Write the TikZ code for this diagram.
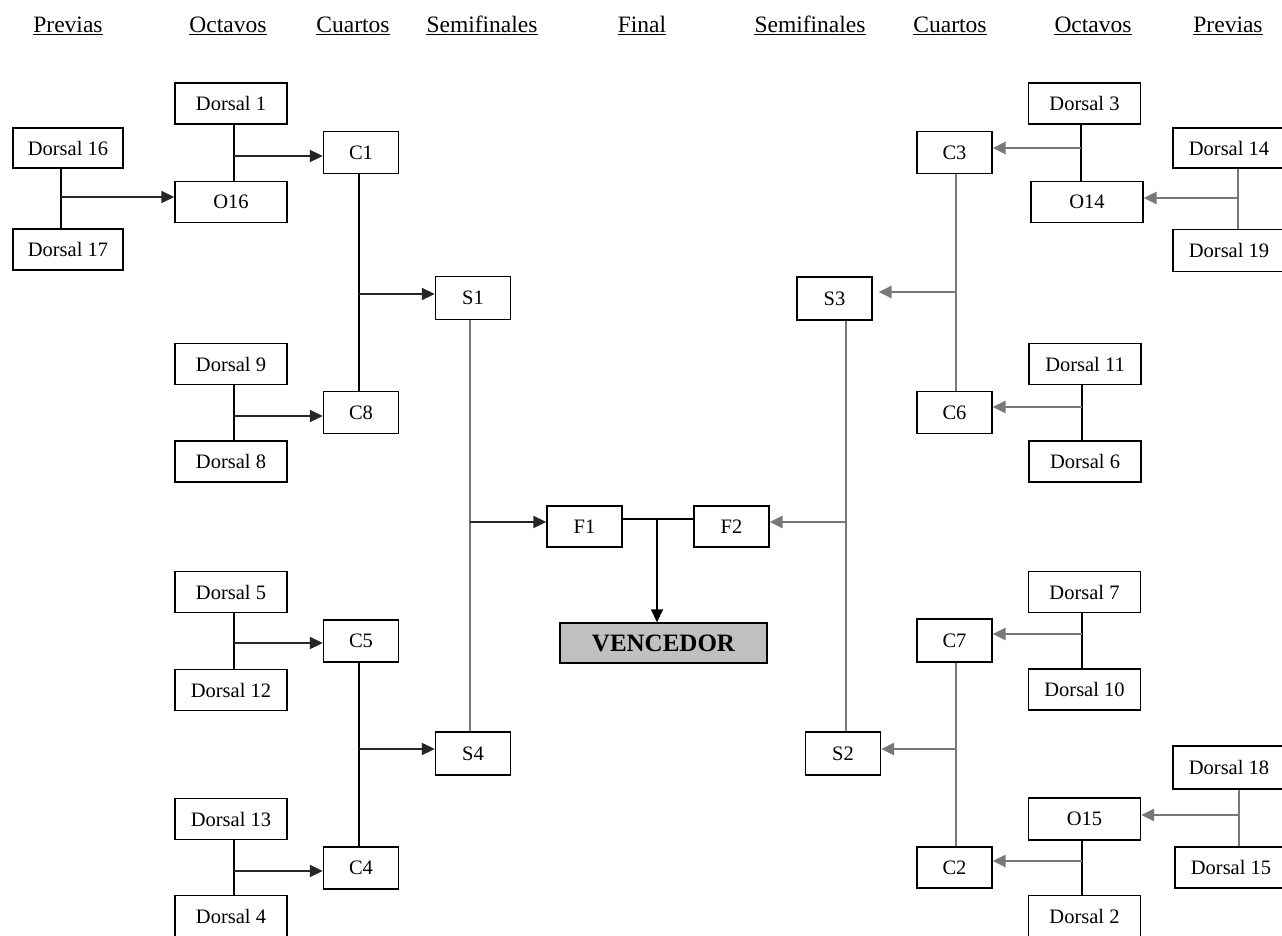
\documentclass[tikz,border=0pt]{standalone}
\usepackage{fontspec}
\setmainfont{Liberation Serif}
\usetikzlibrary{arrows.meta}
\definecolor{linegray}{RGB}{120,120,120}
\definecolor{wingray}{RGB}{192,192,192}
\begin{document}
\begin{tikzpicture}[x=1pt,y=-1pt,
  box/.style={draw, line width=1.4pt, minimum width=112pt, minimum height=41pt, inner sep=0pt, fill=white, font=\fontsize{20.5}{24}\selectfont},
  cbox/.style={box, minimum width=75pt, minimum height=42pt},
  winbox/.style={box, fill=wingray, minimum width=207pt, minimum height=40pt, font=\fontsize{25}{30}\selectfont\bfseries},
  hdr/.style={anchor=base, inner sep=0pt, font=\fontsize{23.5}{28}\selectfont},
  uline/.style={line width=1.3pt},
  blk/.style={line width=1.5pt, black},
  ablk/.style={line width=1.9pt, black!85},
  gry/.style={line width=2.6pt, linegray},
  arr/.style={-{Triangle[length=13pt,width=12pt]}}
]
\useasboundingbox[fill=white] (0,0) rectangle (1282,935);

% headers
\foreach \x/\t/\n in {68/Previas/h1, 228/Octavos/h2, 353/Cuartos/h3, 482/Semifinales/h4, 642/Final/h5, 810/Semifinales/h6, 950/Cuartos/h7, 1093/Octavos/h8, 1228/Previas/h9}{
  \node[hdr] (\n) at (\x,32) {\t};
  \draw[uline] ([yshift=-2.5pt]\n.base west) -- ([yshift=-2.5pt]\n.base east);
}

% left side nodes
\node[box] (d1) at (231,103.5) {Dorsal 1};
\node[box, minimum width=110pt, minimum height=40pt] (d16) at (68,148) {Dorsal 16};
\node[box] (o16) at (231,202) {O16};
\node[box, minimum width=110pt] (d17) at (68,249.5) {Dorsal 17};
\node[cbox] (c1) at (361,152.5) {C1};
\node[cbox, minimum height=43pt] (s1) at (473,298) {S1};
\node[box] (d9) at (231,364) {Dorsal 9};
\node[cbox] (c8) at (361,412.5) {C8};
\node[box] (d8) at (231,461.5) {Dorsal 8};
\node[box] (d5) at (231,592) {Dorsal 5};
\node[cbox] (c5) at (361,641) {C5};
\node[box] (d12) at (231,690) {Dorsal 12};
\node[cbox, minimum height=43pt] (s4) at (473,753.5) {S4};
\node[box] (d13) at (231,819) {Dorsal 13};
\node[cbox] (c4) at (361,868) {C4};
\node[box] (d4) at (231,916) {Dorsal 4};

% final
\node[cbox, minimum height=41pt] (f1) at (584.5,526.5) {F1};
\node[cbox, minimum height=41pt] (f2) at (731.5,526.5) {F2};
\node[winbox] (venc) at (663.5,643) {VENCEDOR};

% right side nodes
\node[box] (d3) at (1084.5,103.5) {Dorsal 3};
\node[cbox] (c3) at (954.5,152.5) {C3};
\node[box, minimum height=40pt] (d14) at (1229,148) {Dorsal 14};
\node[box] (o14) at (1087,202) {O14};
\node[box, minimum height=42pt] (d19) at (1229,250.5) {Dorsal 19};
\node[cbox, minimum height=43pt] (s3) at (834.5,298.5) {S3};
\node[box] (d11) at (1085,364) {Dorsal 11};
\node[cbox] (c6) at (954.5,412.5) {C6};
\node[box] (d6) at (1085,461.5) {Dorsal 6};
\node[box] (d7) at (1084.5,592) {Dorsal 7};
\node[cbox, minimum height=43pt] (c7) at (954.5,640.5) {C7};
\node[box] (d10) at (1084.5,689.5) {Dorsal 10};
\node[cbox, minimum height=43pt] (s2) at (843,753.5) {S2};
\node[box, minimum height=43pt] (d18) at (1229,767.5) {Dorsal 18};
\node[box, minimum height=42pt] (o15) at (1084.5,819) {O15};
\node[cbox, minimum height=41pt] (c2) at (954.5,867.5) {C2};
\node[box] (d15) at (1231,867.5) {Dorsal 15};
\node[box] (d2) at (1084.5,916) {Dorsal 2};

% left junctions
\coordinate (j1) at (234,156);
\coordinate (j2) at (61,197);
\coordinate (j3) at (359,294);
\coordinate (j4) at (234,416);
\coordinate (j5) at (470,522);
\coordinate (j6) at (234,643);
\coordinate (j7) at (359,749);
\coordinate (j8) at (234,871);
\coordinate (jf) at (657,519);

\draw[blk] (d1.south -| j1) -- (o16.north -| j1);
\draw[ablk,arr] (j1) -- (j1 -| c1.west);
\draw[blk] (d16.south -| j2) -- (d17.north -| j2);
\draw[ablk,arr] (j2) -- (j2 -| o16.west);
\draw[blk] (c1.south -| j3) -- (c8.north -| j3);
\draw[ablk,arr] (j3) -- (j3 -| s1.west);
\draw[blk] (d9.south -| j4) -- (d8.north -| j4);
\draw[ablk,arr] (j4) -- (j4 -| c8.west);
\draw[gry] (s1.south -| j5) -- (s4.north -| j5);
\draw[ablk,arr] (j5) -- (j5 -| f1.west);
\draw[blk] (d5.south -| j6) -- (d12.north -| j6);
\draw[ablk,arr] (j6) -- (j6 -| c5.west);
\draw[blk] (c5.south -| j7) -- (c4.north -| j7);
\draw[ablk,arr] (j7) -- (j7 -| s4.west);
\draw[blk] (d13.south -| j8) -- (d4.north -| j8);
\draw[ablk,arr] (j8) -- (j8 -| c4.west);

% final
\draw[blk] (f1.east |- jf) -- (f2.west |- jf);
\draw[blk,arr] (jf) -- (venc.north -| jf);

% right junctions
\coordinate (k1) at (1081,148);
\coordinate (k2) at (1238,198);
\coordinate (k3) at (956,292);
\coordinate (k4) at (1082,407);
\coordinate (k5) at (846,522);
\coordinate (k6) at (1082,634);
\coordinate (k7) at (956,749);
\coordinate (k8) at (1239,815);
\coordinate (k9) at (1082,861);

\draw[blk] (d3.south -| k1) -- (o14.north -| k1);
\draw[gry,arr] (k1) -- (k1 -| c3.east);
\draw[gry] (d14.south -| k2) -- (d19.north -| k2);
\draw[gry,arr] (k2) -- (k2 -| o14.east);
\draw[gry] (c3.south -| k3) -- (c6.north -| k3);
\draw[gry,arr,shorten >=6pt] (k3) -- (k3 -| s3.east);
\draw[blk] (d11.south -| k4) -- (d6.north -| k4);
\draw[gry,arr] (k4) -- (k4 -| c6.east);
\draw[gry] (s3.south -| k5) -- (s2.north -| k5);
\draw[gry,arr] (k5) -- (k5 -| f2.east);
\draw[blk] (d7.south -| k6) -- (d10.north -| k6);
\draw[gry,arr] (k6) -- (k6 -| c7.east);
\draw[gry] (c7.south -| k7) -- (c2.north -| k7);
\draw[gry,arr] (k7) -- (k7 -| s2.east);
\draw[gry] (d18.south -| k8) -- (d15.north -| k8);
\draw[gry,arr] (k8) -- (k8 -| o15.east);
\draw[blk] (o15.south -| k9) -- (d2.north -| k9);
\draw[gry,arr] (k9) -- (k9 -| c2.east);
\end{tikzpicture}
\end{document}
